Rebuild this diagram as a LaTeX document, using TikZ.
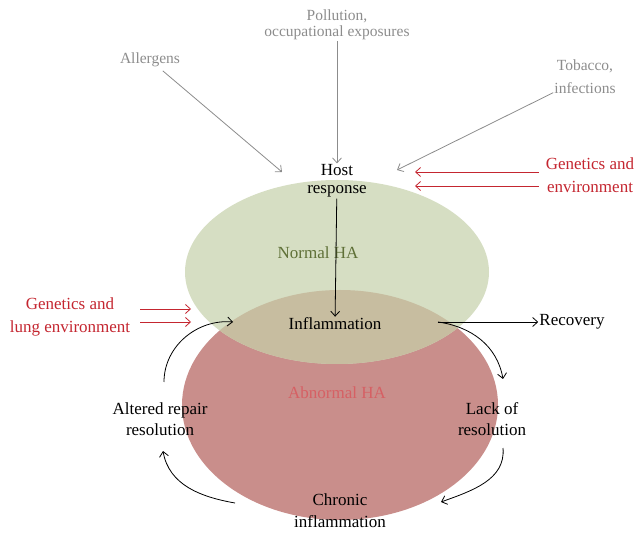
\documentclass[tikz,border=0pt]{standalone}
\usepackage{fontspec}
\setmainfont{Liberation Serif}
\usetikzlibrary{arrows.meta, positioning}

\definecolor{normalgreen}{RGB}{214,222,195}
\definecolor{abnormalred}{RGB}{201,142,139}
\definecolor{overlaptan}{RGB}{199,189,160}
\definecolor{sourcegray}{RGB}{140,140,140}
\definecolor{geneticsred}{RGB}{196,38,48}
\definecolor{normaltext}{RGB}{95,112,55}
\definecolor{abnormaltext}{RGB}{214,96,100}

\tikzset{
    txt/.style = {align=center, inner sep=1pt, font=\fontsize{17}{21}\selectfont},
    gray txt/.style = {txt, text=sourcegray, font=\fontsize{15.5}{23}\selectfont},
    red txt/.style = {txt, text=geneticsred, font=\fontsize{17}{23}\selectfont},
    source arrow/.style = {-{Straight Barb[length=5pt,width=9pt]}, color=sourcegray, line width=0.8pt},
    gene arrow/.style = {-{Straight Barb[length=5pt,width=9pt]}, color=geneticsred, line width=0.8pt},
    cycle arrow/.style = {-{Straight Barb[length=5pt,width=9pt]}, line width=0.8pt},
}

\begin{document}
\begin{tikzpicture} [x=1pt, y=1pt]
    \useasboundingbox (0,0) rectangle (644,535);

    % the two HA fields and their overlap
    \fill [abnormalred] (340,130) ellipse [x radius=158pt, y radius=115pt];
    \fill [normalgreen] (337,263) ellipse [x radius=152pt, y radius=92pt];
    \begin{scope}
        \clip (337,263) ellipse [x radius=152pt, y radius=92pt];
        \fill [overlaptan] (340,130) ellipse [x radius=158pt, y radius=115pt];
    \end{scope}

    \node (pollution) [gray txt, font=\fontsize{15.5}{16}\selectfont] at (337,510) {Pollution,\\occupational exposures};
    \node (allergens) [gray txt] at (150,475) {Allergens};
    \node (tobacco) [gray txt] at (585,458) {Tobacco,\\infections};
    \node (host) [txt, font=\fontsize{17}{18}\selectfont] at (337,354) {Host\\response};
    \node (genright) [red txt] at (590,360) {Genetics and\\environment};
    \node (normal) [txt, text=normaltext] at (318,282) {Normal HA};
    \node (inflam) [txt] at (335,211) {Inflammation};
    \node (genleft) [red txt] at (70,218) {Genetics and\\lung environment};
    \node (recovery) [txt] at (572,213) {Recovery};
    \node (abnormal) [txt, text=abnormaltext] at (337,142) {Abnormal HA};
    \node (altered) [txt] at (160,116) {Altered repair\\resolution};
    \node (lack) [txt] at (492,116) {Lack of\\resolution};
    \node (chronic) [txt, font=\fontsize{17}{22}\selectfont] at (340,24) {Chronic\\inflammation};

    \coordinate (hostL) at (282,363);
    \coordinate (hostR) at (397,365);
    \coordinate (envin1) at (415,363);
    \coordinate (envin2) at (415,349);
    \coordinate (lungin1) at (191,226);
    \coordinate (lungin2) at (191,213);
    \coordinate (inflamR) at (438,213);
    \coordinate (inflamL) at (233,213);
    \coordinate (lackT) at (503,156);
    \coordinate (lackB) at (503,87);
    \coordinate (chronR) at (441,33);
    \coordinate (chronL) at (235,32);
    \coordinate (alterB) at (163,84);
    \coordinate (alterT) at (164,153);

    \path [source arrow] (allergens) edge [shorten <=4pt] (hostL);
    \path [source arrow] (pollution) edge (host);
    \path [source arrow] (tobacco) edge (hostR);

    \path [gene arrow] ([xshift=-6pt]genright.west |- envin1) edge (envin1);
    \path [gene arrow] ([xshift=-6pt]genright.west |- envin2) edge (envin2);
    \path [gene arrow] ([xshift=-51pt]lungin1) edge (lungin1);
    \path [gene arrow] ([xshift=-51pt]lungin2) edge (lungin2);

    \path [cycle arrow] (host) edge (inflam);
    \path [cycle arrow] (inflamR) edge (recovery);
    \path [cycle arrow] (inflamR) edge [out=-8, in=100] (lackT);
    \path [cycle arrow] (lackB) edge [out=-85, in=20] (chronR);
    \path [cycle arrow] (chronL) edge [out=170, in=-80] (alterB);
    \path [cycle arrow] (alterT) edge [out=90, in=175] (inflamL);
\end{tikzpicture}
\end{document}
